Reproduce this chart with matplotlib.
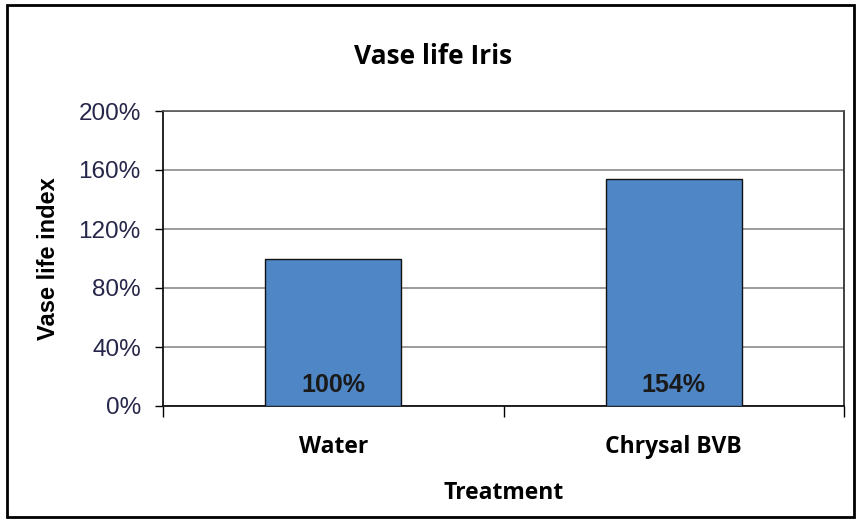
import numpy as np
import matplotlib.pyplot as plt
from matplotlib.patches import Rectangle
from matplotlib.ticker import FuncFormatter

# dati
trattamenti = ['Water', 'Chrysal BVB']
indice = [100, 154]
etichette = ['100%', '154%']
yticks = [0, 40, 80, 120, 160, 200]

titolo_font = ['Open Sans', 'DejaVu Sans']

fig = plt.figure(figsize=(8.57, 5.22), dpi=100)
ax = fig.add_axes([163/857, 1-406/522, (844-163)/857, (406-111)/522])

x = np.arange(len(trattamenti))
ax.bar(x, indice, width=0.4, color='#4F86C6', edgecolor='#111111', linewidth=1, zorder=3)

for i in range(0, len(x)):
    ax.text(x[i], 9.5, etichette[i], ha='center', va='baseline', fontsize=18,
            fontweight='bold', family='Liberation Sans', color='#1a1a1a', zorder=4)

ax.set_xlim(-0.5, 1.5)
ax.set_ylim(0, 200)
ax.set_yticks(yticks)
ax.yaxis.set_major_formatter(FuncFormatter(lambda v, p: '%d%%' % v))
ax.grid(axis='y', color='#8a8a8a', linewidth=1.2, zorder=0)

ax.set_xticks(x)
ax.set_xticklabels(trattamenti, fontsize=16.5, fontweight='bold', family=titolo_font)
ax.set_xticks([-0.5, 0.5, 1.5], minor=True)
ax.tick_params(axis='x', which='major', length=0, pad=21)
ax.tick_params(axis='x', which='minor', length=8, width=1, direction='out')
ax.tick_params(axis='y', length=6, width=1, direction='out', pad=10)
for lab in ax.get_yticklabels():
    lab.set_family('Liberation Sans')
    lab.set_fontsize(17.5)
    lab.set_color('#26264a')

for s in ['left', 'bottom']:
    ax.spines[s].set_color('#111111')
    ax.spines[s].set_linewidth(1.3)
ax.spines['top'].set_color('#555555')
ax.spines['right'].set_color('#333333')
ax.spines['top'].set_linewidth(1.2)
ax.spines['right'].set_linewidth(1.3)

ax.set_xlabel('Treatment', fontsize=16.5, fontweight='bold', family=titolo_font, labelpad=16)
ax.set_ylabel('Vase life index', fontsize=17, fontweight='bold', family='Liberation Sans')
ax.yaxis.set_label_coords(-(163-60)/681, 0.5)

fig.text(433/857, 1-56/522, 'Vase life Iris', ha='center', va='center', fontsize=19,
         fontweight='bold', family=titolo_font)

fig.patches.append(Rectangle((7/857, 5/522), (854-7)/857, (517-5)/522, transform=fig.transFigure,
                             fill=False, edgecolor='black', linewidth=2))

plt.savefig('out.png', dpi=100)
